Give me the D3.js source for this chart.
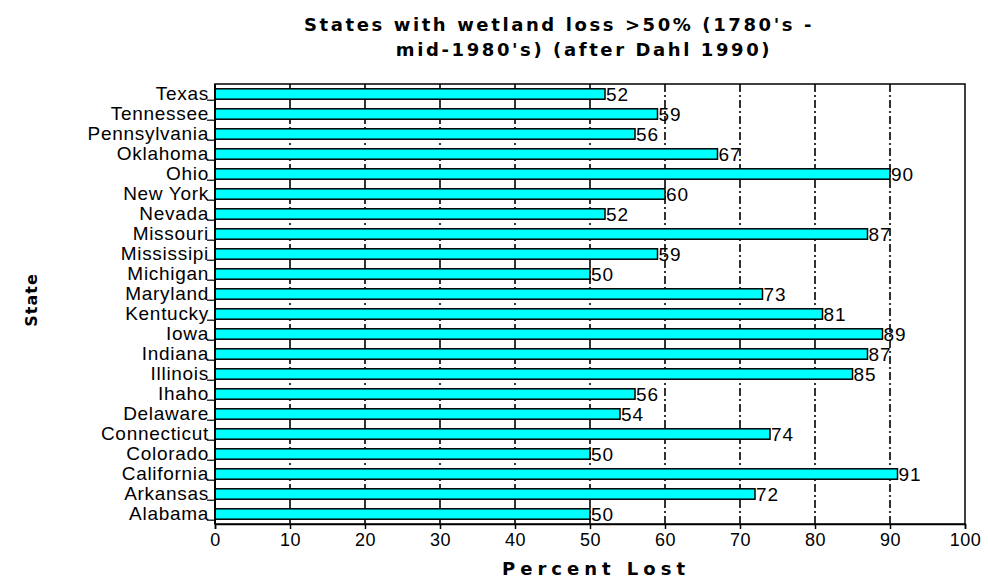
<!DOCTYPE html>
<html>
<head>
<meta charset="utf-8">
<script src="https://cdn.jsdelivr.net/npm/d3@7"></script>
<style>
  html, body { margin: 0; padding: 0; background: #fff; }
  svg { display: block; }
  text { font-family: "Liberation Sans", Arial, sans-serif; fill: #000; }
  .heading { font-family: "DejaVu Sans", "Liberation Sans", sans-serif; font-weight: bold; }
</style>
</head>
<body>
<svg id="chart" width="988" height="579"></svg>
<script>
// States listed top to bottom as they appear on the chart
const states = ["Texas", "Tennessee", "Pennsylvania", "Oklahoma", "Ohio", "New York",
  "Nevada", "Missouri", "Mississipi", "Michigan", "Maryland", "Kentucky", "Iowa",
  "Indiana", "Illinois", "Ihaho", "Delaware", "Connecticut", "Colorado", "California",
  "Arkansas", "Alabama"];
const percentLost = [52, 59, 56, 67, 90, 60, 52, 87, 59, 50, 73, 81, 89, 87, 85, 56, 54,
  74, 50, 91, 72, 50];
const xTicks = [0, 10, 20, 30, 40, 50, 60, 70, 80, 90, 100];
const titleLines = ["States with wetland loss >50% (1780's -", "mid-1980's) (after Dahl 1990)"];
const xTitle = "Percent Lost";
const yTitle = "State";

const svg = d3.select("#chart");
const margin = { left: 215, right: 23, top: 84, bottom: 55 };
const W = 988, H = 579;
const x0 = margin.left, x1 = W - margin.right;
const y0 = margin.top, y1 = H - margin.bottom;

const x = d3.scaleLinear().domain([0, 100]).range([x0, x1]);
const y = d3.scaleBand().domain(states).range([y0, y1]).paddingInner(0.48).paddingOuter(0.24);

// dashed vertical gridlines
svg.append("g").selectAll("line").data(xTicks.slice(1, -1)).join("line")
  .attr("x1", d => x(d)).attr("x2", d => x(d))
  .attr("y1", y0).attr("y2", y1)
  .attr("stroke", "#000").attr("stroke-width", 1.6)
  .attr("stroke-dasharray", "8,3,2,3");

// plot frame
svg.append("rect").attr("x", x0).attr("y", y0).attr("width", x1 - x0).attr("height", y1 - y0)
  .attr("fill", "none").attr("stroke", "#000").attr("stroke-width", 1.5);

// bars
svg.append("g").selectAll("rect").data(states).join("rect")
  .attr("x", x(0)).attr("y", d => y(d))
  .attr("width", (d, i) => x(percentLost[i]) - x(0))
  .attr("height", y.bandwidth())
  .attr("fill", "#00ffff").attr("stroke", "#000").attr("stroke-width", 1.5);

// value labels
svg.append("g").selectAll("text").data(states).join("text")
  .attr("x", (d, i) => x(percentLost[i]) + 1)
  .attr("y", d => y(d) + y.bandwidth() / 2 + 7)
  .attr("font-size", 19).attr("letter-spacing", "1px")
  .text((d, i) => percentLost[i]);

// x axis
const xAxis = d3.axisBottom(x).tickValues(xTicks).tickSize(5).tickPadding(4);
const gx = svg.append("g").attr("transform", `translate(0,${y1})`).call(xAxis);
gx.select(".domain").attr("stroke-width", 1.5);
gx.selectAll(".tick line").attr("stroke-width", 1.5);
gx.selectAll(".tick text").attr("font-size", 18).attr("letter-spacing", "0.5px")
  .style("font-family", "'Liberation Sans', Arial, sans-serif").attr("fill", "#000");

// y axis: category labels with small ticks under each row
const gy = svg.append("g");
gy.append("line").attr("x1", x0).attr("x2", x0).attr("y1", y0).attr("y2", y1)
  .attr("stroke", "#000").attr("stroke-width", 2);
gy.selectAll("line.tk").data(states).join("line").attr("class", "tk")
  .attr("x1", x0 - 8).attr("x2", x0)
  .attr("y1", d => y(d) + y.bandwidth() + 1).attr("y2", d => y(d) + y.bandwidth() + 1)
  .attr("stroke", "#000").attr("stroke-width", 1.2);
gy.selectAll("text").data(states).join("text")
  .attr("x", x0 - 6).attr("y", d => y(d) + y.bandwidth() + 1)
  .attr("text-anchor", "end").attr("font-size", 19).attr("letter-spacing", "0.7px")
  .text(d => d);

// titles
svg.append("g").selectAll("text").data(titleLines).join("text")
  .attr("class", "heading")
  .attr("x", (d, i) => i === 0 ? 559 : 584).attr("y", (d, i) => 31 + i * 25)
  .attr("text-anchor", "middle").attr("font-size", 18)
  .attr("letter-spacing", "2.6px")
  .text(d => d);

svg.append("text").attr("class", "heading")
  .attr("x", 596).attr("y", 575).attr("text-anchor", "middle")
  .attr("font-size", 18).attr("letter-spacing", "5px")
  .text(xTitle);

svg.append("text").attr("class", "heading")
  .attr("transform", `translate(37,300) rotate(-90)`)
  .attr("text-anchor", "middle").attr("font-size", 16)
  .attr("letter-spacing", "1px")
  .text(yTitle);
</script>
</body>
</html>
